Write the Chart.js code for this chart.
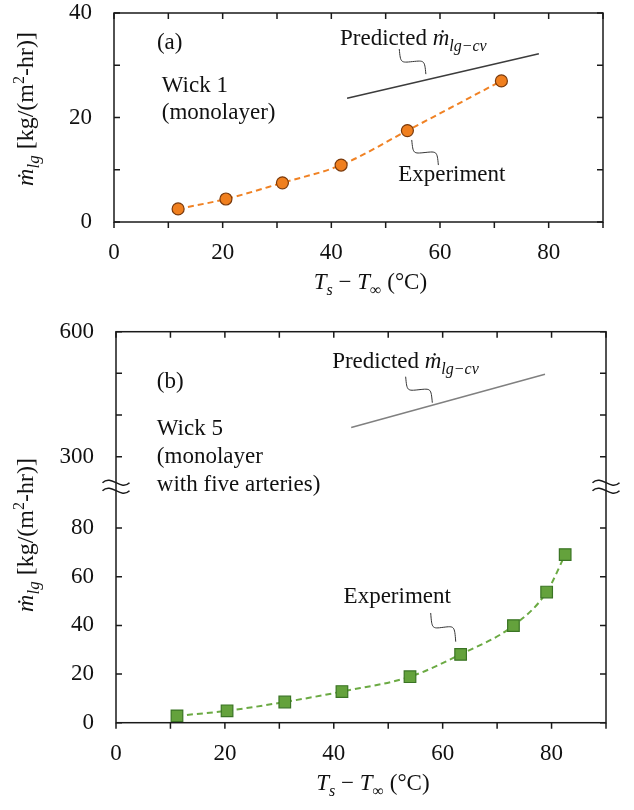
<!DOCTYPE html>
<html><head><meta charset="utf-8">
<script src="https://cdn.jsdelivr.net/npm/chart.js@4.4.0/dist/chart.umd.min.js"></script>
<style>
html,body{margin:0;padding:0;background:#fff;}
#wrap{width:634px;height:810px;position:relative;background:#fff;}
canvas{display:block;}
</style></head><body>
<div id="wrap">
<canvas id="ca" width="634" height="300"></canvas>
<canvas id="cb" width="634" height="510"></canvas>
</div>
<script>
// ---------- data ----------
const xTickLabels = [0, 20, 40, 60, 80];
const yTickLabelsA = [0, 20, 40];
const yTickLabelsBLow = [0, 20, 40, 60, 80];
const yTickLabelsBHigh = [300, 600];

const expAx = [11.8, 20.6, 31.0, 41.8, 54.0, 71.3];
const expAy = [2.5, 4.4, 7.5, 10.9, 17.5, 27.0];
const predAx = [42.9, 78.2];
const predAy = [23.7, 32.2];

const expBx = [11.2, 20.4, 31.0, 41.5, 54.0, 63.3, 73.0, 79.1, 82.5];
const expBy = [2.8, 4.9, 8.5, 12.8, 18.9, 28.1, 39.9, 53.7, 69.1];
const predBx = [43.2, 78.8];
const predBy = [370, 498];

// ---------- helpers ----------
const FONT = '"Liberation Serif", "Times New Roman", serif';
Chart.defaults.font.family = FONT;
Chart.defaults.color = '#111';

function setFont(ctx, size, it) { ctx.font = (it ? 'italic ' : '') + size + 'px ' + FONT; }
function richWidth(ctx, segs) {
  let w = 0;
  for (const s of segs) { setFont(ctx, s.size || 23, s.it); w += ctx.measureText(s.t).width; }
  return w;
}
function drawRich(ctx, segs, x, y, align) {
  const w = richWidth(ctx, segs);
  let cx = align === 'center' ? x - w / 2 : x;
  ctx.textBaseline = 'alphabetic'; ctx.textAlign = 'left'; ctx.fillStyle = '#111';
  for (const s of segs) {
    setFont(ctx, s.size || 23, s.it);
    ctx.fillText(s.t, cx, y + (s.dy || 0));
    cx += ctx.measureText(s.t).width;
  }
}
function squiggle(ctx, x0, y0, x1, y1) {
  const dx = x1 - x0, dy = y1 - y0, mx = (x0 + x1) / 2, my = (y0 + y1) / 2;
  ctx.save(); ctx.strokeStyle = '#333'; ctx.lineWidth = 1; ctx.setLineDash([]);
  ctx.beginPath(); ctx.moveTo(x0, y0);
  ctx.bezierCurveTo(x0 + 0.05 * dx, y0 + 0.55 * dy, mx - 0.45 * dx, my + 0.05 * dy, mx, my);
  ctx.bezierCurveTo(mx + 0.45 * dx, my - 0.05 * dy, x1 - 0.05 * dx, y1 - 0.55 * dy, x1, y1);
  ctx.stroke(); ctx.restore();
}
function breakMark(ctx, x, y) {
  ctx.save(); ctx.strokeStyle = '#1a1a1a'; ctx.lineWidth = 1.5;
  const w = 13.5, a = 4;
  for (const off of [-4, 4]) {
    const yy = y + off;
    ctx.beginPath(); ctx.moveTo(x - w, yy);
    ctx.bezierCurveTo(x - w / 3, yy - 2.2 * a, x + w / 3, yy + 2.2 * a, x + w, yy);
    ctx.stroke();
  }
  ctx.restore();
}

const predSegs = [{t: 'Predicted '}, {t: 'ṁ', it: true}, {t: 'lg−cv', it: true, size: 16, dy: 6}];
const yTitleSegs = [{t: 'ṁ', it: true, size: 24}, {t: 'lg', it: true, size: 17, dy: 6}, {t: ' [kg/(m', size: 24}, {t: '2', size: 16, dy: -9}, {t: '-hr)]', size: 24}];
const xTitleSegs = [{t: 'T', it: true}, {t: 's', it: true, size: 16, dy: 6}, {t: ' − '}, {t: 'T', it: true}, {t: '∞', size: 16, dy: 6}, {t: ' (°C)'}];

// frame + tick marks drawn from the chart's own scales
const framePlugin = {
  id: 'frame',
  afterDraw(chart, args, opts) {
    const {ctx, chartArea: a} = chart;
    ctx.save();
    ctx.strokeStyle = '#1a1a1a'; ctx.lineWidth = 1.5; ctx.setLineDash([]);
    ctx.strokeRect(a.left, a.top, a.right - a.left, a.bottom - a.top);
    const L = 6;
    const xs = chart.scales.x;
    ctx.beginPath();
    xs.ticks.forEach(t => {
      const px = xs.getPixelForValue(t.value);
      ctx.moveTo(px, a.bottom); ctx.lineTo(px, a.bottom + L);
      ctx.moveTo(px, a.top); ctx.lineTo(px, a.top + L);
    });
    (opts.yIds || ['y']).forEach(id => {
      const ys = chart.scales[id];
      ys.ticks.forEach(t => {
        const py = ys.getPixelForValue(t.value);
        ctx.moveTo(a.left, py); ctx.lineTo(a.left + L, py);
        ctx.moveTo(a.right, py); ctx.lineTo(a.right - L, py);
      });
    });
    ctx.stroke();
    if (opts.breakBetween) {
      const yb = chart.scales[opts.breakBetween].top;
      breakMark(ctx, a.left, yb);
      breakMark(ctx, a.right, yb);
    }
    ctx.restore();
    // axis titles
    const c = chart.ctx;
    c.save();
    drawRich(c, xTitleSegs, xs.getPixelForValue(47.2), a.bottom + opts.xTitleDy, 'center');
    c.translate(opts.yTitleX, opts.yTitleY);
    c.rotate(-Math.PI / 2);
    drawRich(c, yTitleSegs, 0, 0, 'center');
    c.restore();
  }
};

const annotPlugin = {
  id: 'annot',
  afterDatasetsDraw(chart, args, opts) {
    const ctx = chart.ctx, xs = chart.scales.x;
    ctx.save();
    (opts.texts || []).forEach(tx => {
      const ys = chart.scales[tx.axis || 'y'];
      drawRich(ctx, tx.segs, xs.getPixelForValue(tx.x), ys.getPixelForValue(tx.y), 'left');
    });
    (opts.leaders || []).forEach(l => {
      const ys = chart.scales[l.axis || 'y'];
      squiggle(ctx, xs.getPixelForValue(l.x0), ys.getPixelForValue(l.y0), xs.getPixelForValue(l.x1), ys.getPixelForValue(l.y1));
    });
    ctx.restore();
  }
};

function zeroPad(s) { s.paddingTop = 0; s.paddingBottom = 0; s.paddingLeft = 0; s.paddingRight = 0; }

function xScale(h) {
  return {
    type: 'linear', min: 0, max: 90,
    grid: {display: false, drawTicks: false}, border: {display: false},
    ticks: {stepSize: 10, padding: 17, maxRotation: 0, autoSkip: false, color: '#111', font: {size: 23},
      callback: v => xTickLabels.includes(v) ? String(v) : ''},
    afterFit: s => { s.height = h; zeroPad(s); }
  };
}
function yFit(w) { return s => { s.width = w; zeroPad(s); }; }

const pts = (xs, ys) => xs.map((x, i) => ({x, y: ys[i]}));

// ---------- chart (a) ----------
new Chart(document.getElementById('ca'), {
  type: 'scatter',
  data: {datasets: [
    {label: 'Experiment', data: pts(expAx, expAy), showLine: true,
      borderColor: '#F08224', borderWidth: 2, borderDash: [6, 4], cubicInterpolationMode: 'monotone',
      pointStyle: 'circle', pointRadius: 6, pointBackgroundColor: '#F07F1E', pointBorderColor: '#7A3A0C', pointBorderWidth: 1.2},
    {label: 'Predicted', data: pts(predAx, predAy), showLine: true,
      borderColor: '#3C3C3C', borderWidth: 1.5, pointRadius: 0}
  ]},
  options: {
    responsive: false, animation: false, devicePixelRatio: 1,
    layout: {padding: {left: 0, right: 31, top: 13, bottom: 0}},
    plugins: {
      legend: {display: false}, tooltip: {enabled: false},
      frame: {yIds: ['y'], xTitleDy: 67, yTitleX: 33, yTitleY: 109},
      annot: {
        texts: [
          {segs: [{t: '(a)'}], x: 7.9, y: 33.1},
          {segs: [{t: 'Wick 1'}], x: 8.8, y: 24.9},
          {segs: [{t: '(monolayer)'}], x: 8.8, y: 19.7},
          {segs: predSegs, x: 41.6, y: 33.9},
          {segs: [{t: 'Experiment'}], x: 52.3, y: 7.85}
        ],
        leaders: [
          {x0: 52.5, y0: 33.1, x1: 57.4, y1: 28.3},
          {x0: 54.8, y0: 15.7, x1: 59.7, y1: 10.9}
        ]
      }
    },
    scales: {
      x: xScale(78),
      y: {type: 'linear', min: 0, max: 40,
        grid: {display: false, drawTicks: false}, border: {display: false},
        ticks: {stepSize: 10, padding: 22, color: '#111', font: {size: 23},
          callback: v => yTickLabelsA.includes(v) ? String(v) : ''},
        afterFit: yFit(114)}
    }
  },
  plugins: [framePlugin, annotPlugin]
});

// ---------- chart (b) ----------
new Chart(document.getElementById('cb'), {
  type: 'scatter',
  data: {datasets: [
    {label: 'Experiment', data: pts(expBx, expBy), yAxisID: 'y', showLine: true,
      borderColor: '#6BAA43', borderWidth: 2, borderDash: [6, 4], cubicInterpolationMode: 'monotone',
      pointStyle: 'rect', pointRadius: 8.2, pointBackgroundColor: '#64A23C', pointBorderColor: '#3A7424', pointBorderWidth: 1.2},
    {label: 'Predicted', data: pts(predBx, predBy), yAxisID: 'y2', showLine: true,
      borderColor: '#808080', borderWidth: 1.5, pointRadius: 0}
  ]},
  options: {
    responsive: false, animation: false, devicePixelRatio: 1,
    layout: {padding: {left: 0, right: 28, top: 31.7, bottom: 0}},
    plugins: {
      legend: {display: false}, tooltip: {enabled: false},
      frame: {yIds: ['y', 'y2'], breakBetween: 'y', xTitleDy: 67, yTitleX: 33, yTitleY: 235},
      annot: {
        texts: [
          {segs: [{t: '(b)'}], x: 7.5, y: 465.6, axis: 'y2'},
          {segs: [{t: 'Wick 5'}], x: 7.5, y: 352, axis: 'y2'},
          {segs: [{t: '(monolayer'}], x: 7.5, y: 285.6, axis: 'y2'},
          {segs: [{t: 'with five arteries)'}], x: 7.5, y: 217.7, axis: 'y2'},
          {segs: predSegs, x: 39.7, y: 511.7, axis: 'y2'},
          {segs: [{t: 'Experiment'}], x: 41.8, y: 49.3, axis: 'y'}
        ],
        leaders: [
          {x0: 53.2, y0: 492, x1: 58.1, y1: 429.6, axis: 'y2'},
          {x0: 57.8, y0: 45.1, x1: 62.4, y1: 33.3, axis: 'y'}
        ]
      }
    },
    scales: {
      x: xScale(87.3),
      y: {type: 'linear', position: 'left', stack: 'b', stackWeight: 236, min: 0, max: 97,
        grid: {display: false, drawTicks: false}, border: {display: false},
        ticks: {stepSize: 20, includeBounds: false, padding: 22, color: '#111', font: {size: 23},
          callback: v => yTickLabelsBLow.includes(v) ? String(v) : ''},
        afterFit: yFit(116)},
      y2: {type: 'linear', position: 'left', stack: 'b', stackWeight: 155, min: 228, max: 600,
        grid: {display: false, drawTicks: false}, border: {display: false},
        ticks: {stepSize: 100, includeBounds: false, padding: 22, color: '#111', font: {size: 23},
          callback: v => yTickLabelsBHigh.includes(v) ? String(v) : ''},
        afterFit: yFit(116)}
    }
  },
  plugins: [framePlugin, annotPlugin]
});
</script>
</body></html>
